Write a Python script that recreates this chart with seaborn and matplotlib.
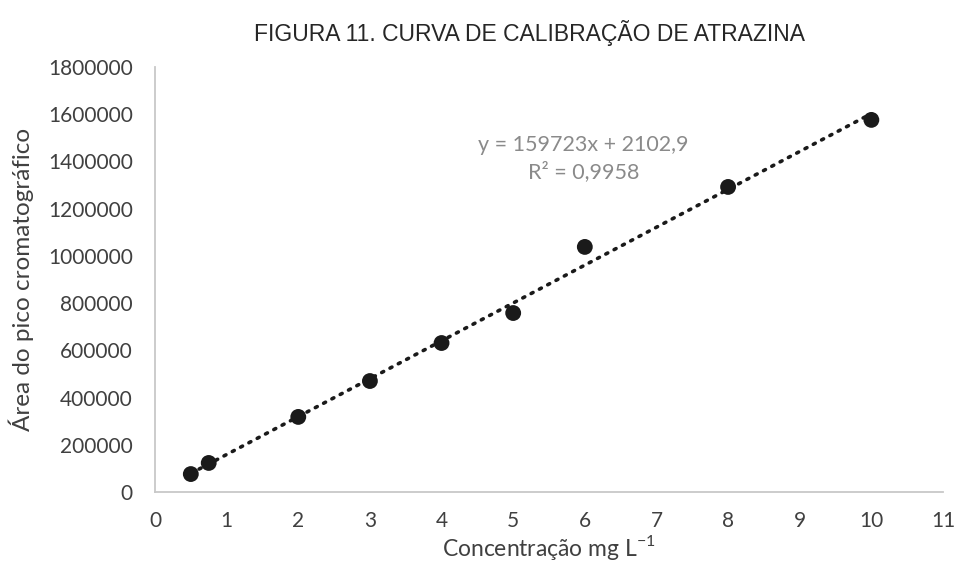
import matplotlib
matplotlib.use("Agg")
import matplotlib.pyplot as plt
import seaborn as sns
import numpy as np
import pandas as pd

# Data
concentracao = [0.5, 0.75, 2, 3, 4, 5, 6, 8, 10]
area = [76000, 123000, 318000, 470000, 631000, 758000, 1038000, 1292000, 1576000]
x_ticks = list(range(0, 12))
y_ticks = list(range(0, 1800001, 200000))
titulo = "FIGURA 11. CURVA DE CALIBRAÇÃO DE ATRAZINA"
eq_text = "y = 159723x + 2102,9"
r2_text = "R² = 0,9958"

df = pd.DataFrame({"x": concentracao, "y": area})

sns.set_theme(style="white")
plt.rcParams["font.family"] = ["Lato", "DejaVu Sans"]
plt.rcParams["mathtext.fontset"] = "custom"
plt.rcParams["mathtext.rm"] = "Lato"

fig = plt.figure(figsize=(9.58, 5.76), dpi=100)
ax = fig.add_axes([155/958, 1-492/576, (943-155)/958, (492-67)/576])

sns.regplot(data=df, x="x", y="y", ax=ax, ci=None,
            scatter_kws=dict(s=130, color="#1a1a1a", edgecolor="none", zorder=3, alpha=1),
            line_kws=dict(color="#1a1a1a", linewidth=2.6, linestyle=(0, (0.6, 2.0)),
                          dash_capstyle="round", zorder=2))

ax.set_xlim(0, 11)
ax.set_ylim(0, 1800000)
ax.set_xticks(x_ticks)
ax.set_yticks(y_ticks)
ax.set_xticklabels([str(v) for v in x_ticks])
ax.set_yticklabels([str(v) for v in y_ticks])
ax.tick_params(axis="both", length=0, labelsize=15, colors="#404040")
ax.tick_params(axis="x", pad=14)
ax.tick_params(axis="y", pad=16)

for s in ["top", "right"]:
    ax.spines[s].set_visible(False)
for s in ["left", "bottom"]:
    ax.spines[s].set_color("#c8c8c8")
    ax.spines[s].set_linewidth(1.3)

ax.set_xlabel("Concentração mg L$^{\\mathregular{-1}}$", fontsize=16.5, color="#404040", labelpad=1)
ax.set_ylabel("Área do pico cromatográfico", fontsize=17.5, color="#404040", labelpad=10)

ax.text(5.98, 1470000, eq_text, ha="center", va="center", fontsize=15.5, color="#8a8a8a")
ax.text(5.98, 1356000, r2_text, ha="center", va="center", fontsize=15.5, color="#8a8a8a")

fig.text(529/958, 1-33/576, titulo, ha="center", va="center", fontsize=16.5,
         color="#262626", family=["Liberation Sans", "DejaVu Sans"])

fig.savefig("out.png", dpi=100)
